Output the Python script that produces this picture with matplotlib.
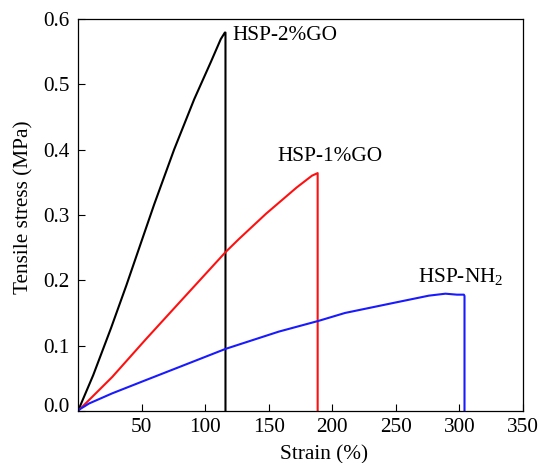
import matplotlib
matplotlib.use("Agg")
import matplotlib.pyplot as plt
import matplotlib.transforms as mtransforms

plt.rcParams["font.family"] = ["Liberation Serif", "DejaVu Serif"]
plt.rcParams["mathtext.fontset"] = "custom"
plt.rcParams["mathtext.rm"] = "Liberation Serif"

# stress-strain curves, strain in %, stress in MPa
go2_strain = [0, 12, 26, 38, 50, 59.9, 75.6, 91.4, 104.5, 112.3, 115.5, 116, 116]
go2_stress = [0, 0.055, 0.127, 0.192, 0.260, 0.316, 0.400, 0.477, 0.534, 0.569, 0.579, 0.579, 0]

go1_strain = [0, 26.9, 53, 79.3, 116, 126.5, 148, 172, 184, 188.5, 188.5]
go1_stress = [0, 0.052, 0.109, 0.165, 0.243, 0.263, 0.302, 0.342, 0.360, 0.364, 0]

nh2_strain = [0, 1.5, 4.6, 8.6, 26.9, 53, 79.3, 116, 158, 189.4, 210, 249.7, 276, 289, 298,
              303.5, 304, 304]
nh2_stress = [0, 0.003, 0.0065, 0.0114, 0.027, 0.047, 0.067, 0.095, 0.1215, 0.138, 0.150,
              0.166, 0.1765, 0.1795, 0.178, 0.178, 0.176, 0]

x_ticks = [50, 100, 150, 200, 250, 300, 350]
y_ticks = [0.0, 0.1, 0.2, 0.3, 0.4, 0.5, 0.6]

fs = 15.3

fig = plt.figure(figsize=(5.39, 4.63), dpi=100)
ax = fig.add_axes([0.1447, 0.1123, 0.8256, 0.847])

ax.plot(go2_strain, go2_stress, color="black", lw=1.5)
ax.plot(go1_strain, go1_stress, color="#ff1010", lw=1.5)
ax.plot(nh2_strain, nh2_stress, color="#1a1aff", lw=1.5)

ax.text(121.5, 0.574, "HSP-2%GO", fontsize=fs, va="center")
ax.text(156.5, 0.389, "HSP-1%GO", fontsize=fs, va="center")
ax.text(267.5, 0.205, "HSP-NH$_2$", fontsize=fs, va="center")

ax.set_xlim(0, 350)
ax.set_ylim(0, 0.6)
ax.set_xticks(x_ticks)
ax.set_yticks(y_ticks)
ax.set_yticklabels([f"{v:.1f}" for v in y_ticks])
ax.tick_params(direction="in", length=5, width=0.8, labelsize=fs, pad=5)
ax.tick_params(axis="y", pad=6)

# lift the 0.0 label off the corner
lbl0 = ax.get_yticklabels()[0]
lbl0.set_transform(lbl0.get_transform() + mtransforms.ScaledTranslation(0, 6 / 100, fig.dpi_scale_trans))

for s in ax.spines.values():
    s.set_linewidth(0.9)

ax.set_xlabel("Strain (%)", fontsize=fs)
ax.set_ylabel("Tensile stress (MPa)", fontsize=fs)
ax.xaxis.set_label_coords(0.553, -0.087)
ax.yaxis.set_label_coords(-0.10, 0.52)

fig.savefig("out.png", dpi=100)
